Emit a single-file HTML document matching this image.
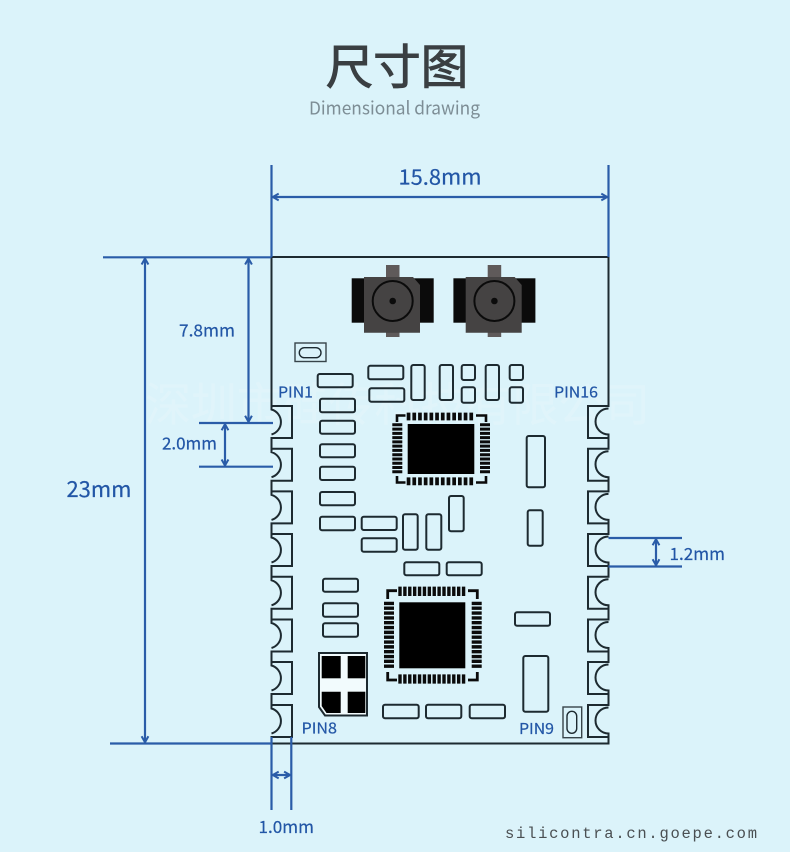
<!DOCTYPE html>
<html><head><meta charset="utf-8"><style>
html,body{margin:0;padding:0;background:#dbf3fa}
svg{display:block}
.p rect{rx:2px;ry:2px}
.t{font-family:"Noto Sans CJK SC","Liberation Sans",sans-serif;fill:#2256a6;stroke:#2256a6;stroke-width:.2}
</style></head><body>
<svg width="790" height="852" viewBox="0 0 790 852" xmlns="http://www.w3.org/2000/svg">
<defs>
<marker id="a" markerUnits="userSpaceOnUse" markerWidth="10" markerHeight="10" refX="8.6" refY="5" orient="auto-start-reverse"><path d="M2.4 1.6 L8.4 5 L2.4 8.4" fill="none" stroke="#2a5ca8" stroke-width="2"/></marker>
</defs>
<rect width="790" height="852" fill="#dbf3fa"/>

<text x="397" y="84" text-anchor="middle" font-family="'Noto Sans CJK SC',sans-serif" font-size="47.500" fill="#3a3f42" stroke="#3a3f42" stroke-width="1">尺寸图</text>
<text x="309" y="114.500" font-family="'Noto Sans CJK SC','Liberation Sans',sans-serif" font-size="18" fill="#7d8d95" textLength="171" lengthAdjust="spacingAndGlyphs">Dimensional drawing</text>

<text x="145" y="421" font-family="'Noto Sans CJK SC',sans-serif" font-size="46" fill="#fff" opacity=".16" textLength="505">深圳市硅传科技有限公司</text>

<!-- board -->
<path fill="none" stroke="#1d2a30" stroke-width="2" d="M271.5 257H608.500V406H588V438H608.500V434.500A13 13 0 0 1 608.500 408.500M608.500 438V448.700H588V480.700H608.500V477.200A13 13 0 0 1 608.500 451.200M608.500 480.700V491.400H588V523.400H608.500V519.900A13 13 0 0 1 608.500 493.900M608.500 523.400V534H588V566H608.500V562.500A13 13 0 0 1 608.500 536.500M608.500 566V576.800H588V608.800H608.500V605.300A13 13 0 0 1 608.500 579.300M608.500 608.800V619.500H588V651.500H608.500V648A13 13 0 0 1 608.500 622M608.500 651.500V662H588V694H608.500V690.500A13 13 0 0 1 608.500 664.500M608.500 694V705H588V737H608.500V733.500A13 13 0 0 1 608.500 707.500M608.500 737V743.500H271.5V737H292V705H271.5V708.500A13 13 0 0 1 271.5 733.500M271.5 705V694H292V662H271.500V665.500A13 13 0 0 1 271.5 690.500M271.5 662V651.500H292V619.500H271.500V623A13 13 0 0 1 271.5 648M271.5 619.500V608.800H292V576.800H271.500V580.300A13 13 0 0 1 271.5 605.300M271.5 576.800V566H292V534H271.500V537.500A13 13 0 0 1 271.5 562.500M271.5 534V523.400H292V491.400H271.500V494.900A13 13 0 0 1 271.5 519.900M271.5 491.400V480.700H292V448.700H271.500V452.200A13 13 0 0 1 271.5 477.200M271.5 448.700V438H292V406H271.500V409.500A13 13 0 0 1 271.5 434.500M271.5 406V257"/>

<!-- connectors -->
<g>
<rect x="351.700" y="278.300" width="82" height="44.400" fill="#0b0b0b"/>
<rect x="386" y="265" width="13.500" height="72" fill="#5f5a5a"/>
<path d="M364 277H413L420 285V332.700H364Z" fill="#454343"/>
<circle cx="392.700" cy="301" r="20" fill="none" stroke="#0b0b0b" stroke-width="2"/>
<circle cx="392.700" cy="301" r="3.300" fill="#0b0b0b"/>
</g>
<g>
<rect x="453.400" y="278.300" width="82" height="44.400" fill="#0b0b0b"/>
<rect x="487.700" y="265" width="13.500" height="72" fill="#5f5a5a"/>
<path d="M465.700 277H514.700L521.700 285V332.700H465.700Z" fill="#454343"/>
<circle cx="494.400" cy="301" r="20" fill="none" stroke="#0b0b0b" stroke-width="2"/>
<circle cx="494.400" cy="301" r="3.300" fill="#0b0b0b"/>
</g>

<!-- tiny marks -->
<g fill="none" stroke="#37444a" stroke-width="1.400">
<rect x="295" y="343" width="31" height="18.500"/>
<rect x="299.300" y="347.700" width="21.700" height="10" rx="5" stroke="#1d2a30"/>
<rect x="563" y="707" width="18.700" height="30.700"/>
<rect x="567" y="711.300" width="9.700" height="22" rx="4.800" stroke="#1d2a30"/>
</g>

<!-- pads -->
<g class="p" fill="none" stroke="#1d2a30" stroke-width="2">
<rect x="317.700" y="374" width="35" height="13.300"/>
<rect x="368.300" y="365.700" width="35" height="13.600"/>
<rect x="369.300" y="388.300" width="35" height="13.400"/>
<rect x="411.300" y="365" width="13.400" height="35"/>
<rect x="439.700" y="365" width="13.300" height="35"/>
<rect x="461.700" y="365" width="13.300" height="15"/>
<rect x="461.700" y="387.300" width="13.300" height="15.400"/>
<rect x="485.700" y="365" width="13.300" height="35"/>
<rect x="509.700" y="365" width="13.300" height="15"/>
<rect x="509.700" y="387.300" width="13.300" height="15.400"/>
<rect x="320" y="398.700" width="35" height="13.600"/>
<rect x="320" y="420.700" width="35" height="13"/>
<rect x="320" y="444.300" width="35" height="13"/>
<rect x="320" y="466.700" width="35" height="13.300"/>
<rect x="320" y="492" width="35" height="13.300"/>
<rect x="320" y="516.700" width="35" height="13.600"/>
<rect x="361.700" y="516.700" width="35" height="13.300"/>
<rect x="361.700" y="538.300" width="35" height="13.400"/>
<rect x="403" y="514.300" width="14.700" height="35.400"/>
<rect x="426.300" y="514.300" width="15" height="35.400"/>
<rect x="449" y="496" width="14.700" height="35.300"/>
<rect x="404.300" y="562.300" width="35" height="13"/>
<rect x="446.700" y="562.300" width="35" height="13"/>
<rect x="323" y="578.700" width="35" height="13"/>
<rect x="323" y="603.300" width="35" height="13.400"/>
<rect x="323" y="623.300" width="35" height="13.400"/>
<rect x="383" y="704.700" width="35.700" height="13.600"/>
<rect x="426" y="704.700" width="35.300" height="13.600"/>
<rect x="469.700" y="704.700" width="35.300" height="13.600"/>
<rect x="515" y="612.300" width="35" height="13.400"/>
<rect x="523.300" y="656" width="25" height="55.700"/>
<rect x="526.700" y="436" width="18.300" height="51.300"/>
<rect x="527.700" y="510.300" width="15" height="35.400"/>
</g>

<!-- QFN 1 -->
<rect x="407.700" y="424" width="66.600" height="50" fill="#000"/>
<g fill="none" stroke="#0b0b0b">
<path d="M406.700 416.500H475M406.700 481.300H475" stroke-width="7.800" stroke-dasharray="3.700 2"/>
<path d="M397.300 423.300V474.500M485 423.300V474.500" stroke-width="10" stroke-dasharray="3 1.270"/>
<path stroke-width="2.600" d="M405.500 415.500H397V422M476 415.500H486V422M405.500 482.500H397V476M476 482.500H486V476"/>
</g>

<!-- QFN 2 -->
<rect x="399.300" y="602.300" width="66" height="66" fill="#000"/>
<g fill="none" stroke="#0b0b0b">
<path d="M398.300 591.300H466.700M398.300 679H466.700" stroke-width="9.300" stroke-dasharray="3.400 1.490"/>
<path d="M389 601.700V669.300M476.700 601.700V669.300" stroke-width="10" stroke-dasharray="3.400 1.430"/>
<path stroke-width="2.800" d="M397 590.700H387.700V599M468 590.700H477.300V599M397 680H387.700V672M468 680H477.300V672"/>
</g>

<!-- crystal -->
<path d="M319 653H367V715.500H325L319 707Z" fill="#f2fbfd" stroke="#1d2a30" stroke-width="2"/>
<g fill="#000">
<rect x="321.700" y="656" width="19" height="22.300"/>
<rect x="347.700" y="656" width="17.600" height="22.300"/>
<path d="M321.700 691.700H340.700V713H326.500L321.700 706Z"/>
<rect x="347.700" y="691.700" width="17.600" height="21.300"/>
</g>

<!-- labels -->
<g class="t" font-size="15">
<text x="278" y="397.500" textLength="35" lengthAdjust="spacingAndGlyphs">PIN1</text>
<text x="554" y="397.500" textLength="44" lengthAdjust="spacingAndGlyphs">PIN16</text>
<text x="301.500" y="733.500" textLength="35.500" lengthAdjust="spacingAndGlyphs">PIN8</text>
<text x="519" y="734" textLength="35" lengthAdjust="spacingAndGlyphs">PIN9</text>
</g>

<!-- dimension lines -->
<g fill="none" stroke="#2a5ca8" stroke-width="2.200">
<path d="M271.500 165V257M608.500 165V257"/>
<path d="M103 257.300H271.500M110 743.500H271.500"/>
<path d="M199 423H273M199 466.700H273"/>
<path d="M608.500 538H682M608.500 566.500H682"/>
<path d="M271.500 737V810M291.300 737V810"/>
<path d="M272.500 197H607.500" marker-start="url(#a)" marker-end="url(#a)"/>
<path d="M145 258.300V742.500" marker-start="url(#a)" marker-end="url(#a)"/>
<path d="M248.500 258.300V422" marker-start="url(#a)" marker-end="url(#a)"/>
<path d="M225 424V465.700" marker-start="url(#a)" marker-end="url(#a)"/>
<path d="M656 539V565.500" marker-start="url(#a)" marker-end="url(#a)"/>
<path d="M272.500 775H290.300" marker-start="url(#a)" marker-end="url(#a)"/>
</g>
<g class="t">
<text x="398.500" y="184.500" font-size="21" textLength="83" lengthAdjust="spacingAndGlyphs">15.8mm</text>
<text x="66.500" y="497" font-size="21.500" textLength="65" lengthAdjust="spacingAndGlyphs">23mm</text>
<text x="179" y="336.500" font-size="17" textLength="56" lengthAdjust="spacingAndGlyphs">7.8mm</text>
<text x="162" y="449.500" font-size="17" textLength="55" lengthAdjust="spacingAndGlyphs">2.0mm</text>
<text x="669.500" y="560" font-size="17" textLength="55.500" lengthAdjust="spacingAndGlyphs">1.2mm</text>
<text x="258.500" y="833" font-size="17" textLength="55.500" lengthAdjust="spacingAndGlyphs">1.0mm</text>
</g>

<text x="505" y="838" font-family="'Liberation Mono',monospace" font-size="15.500" fill="#4a4f52" textLength="252">silicontra.cn.goepe.com</text>
</svg>
</body></html>
